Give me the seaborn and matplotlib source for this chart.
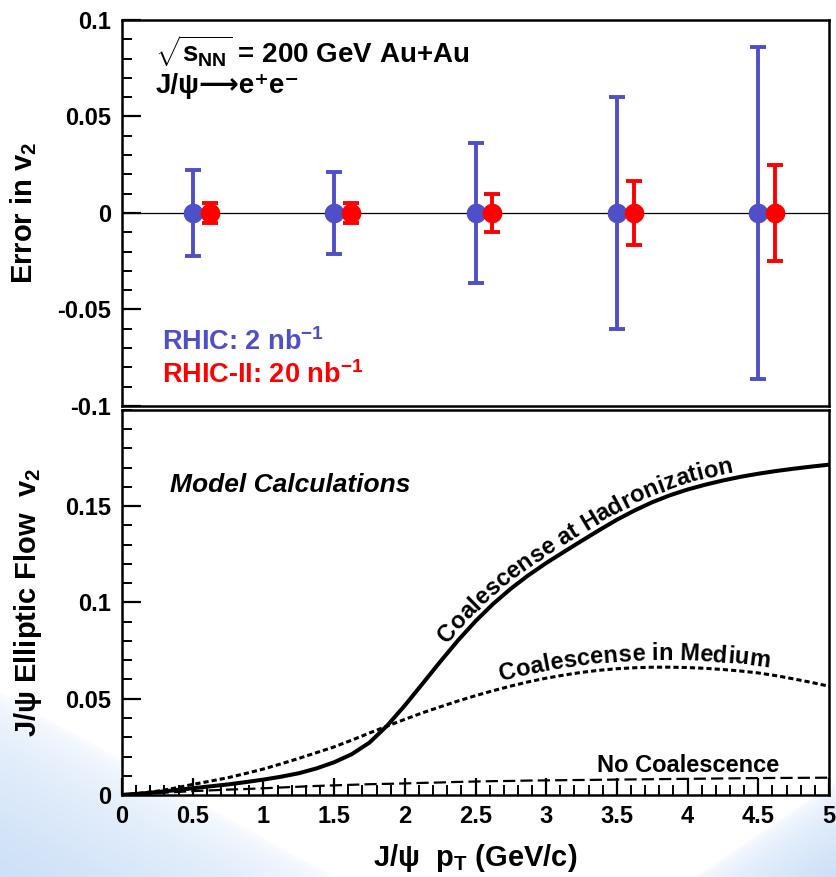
import numpy as np
import matplotlib
matplotlib.use("Agg")
import matplotlib.pyplot as plt
from matplotlib.ticker import MultipleLocator, FixedLocator, FuncFormatter
from matplotlib.font_manager import FontProperties, findfont, get_font
import seaborn as sns

# J/psi v2 error projections at RHIC and RHIC-II luminosities
pt_rhic = [0.5, 1.5, 2.5, 3.5, 4.5]
err_rhic = [0.0225, 0.0215, 0.0365, 0.0600, 0.0860]
pt_rhic2 = [0.62, 1.62, 2.62, 3.62, 4.62]
err_rhic2 = [0.0050, 0.0050, 0.0097, 0.0166, 0.0250]

# Model calculations of J/psi elliptic flow versus pT
pt_model = [0.0, 0.125, 0.25, 0.375, 0.5, 0.625, 0.75, 0.875, 1.0, 1.125, 1.25, 1.375,
            1.5, 1.625, 1.75, 1.875, 2.0, 2.125, 2.25, 2.375, 2.5, 2.625, 2.75, 2.875,
            3.0, 3.125, 3.25, 3.375, 3.5, 3.625, 3.75, 3.875, 4.0, 4.125, 4.25, 4.375,
            4.5, 4.625, 4.75, 4.875, 5.0]
v2_hadronization = [0.0, 0.0007, 0.0015, 0.0025, 0.0035, 0.0045, 0.0055, 0.0067, 0.0080,
                    0.0095, 0.0113, 0.0138, 0.0170, 0.0212, 0.0272, 0.0360, 0.0465, 0.0578,
                    0.0692, 0.0802, 0.0903, 0.0993, 0.1072, 0.1142, 0.1205, 0.1263, 0.1320,
                    0.1376, 0.1430, 0.1478, 0.1521, 0.1557, 0.1587, 0.1612, 0.1634, 0.1653,
                    0.1669, 0.1683, 0.1695, 0.1706, 0.1716]
v2_medium = [0.0, 0.0009, 0.0020, 0.0036, 0.0055, 0.0072, 0.0090, 0.0112, 0.0135, 0.0162,
             0.0190, 0.0220, 0.0250, 0.0285, 0.0322, 0.0358, 0.0393, 0.0427, 0.0458, 0.0488,
             0.0516, 0.0542, 0.0566, 0.0588, 0.0607, 0.0623, 0.0637, 0.0648, 0.0656, 0.0661,
             0.0664, 0.0664, 0.0662, 0.0658, 0.0652, 0.0644, 0.0634, 0.0620, 0.0603, 0.0585,
             0.0565]
v2_no_coalescence = [0.0005, 0.0007, 0.0010, 0.0015, 0.0020, 0.0024, 0.0028, 0.0031, 0.0035,
                     0.0039, 0.0043, 0.0047, 0.0050, 0.0053, 0.0056, 0.0058, 0.0060, 0.0063,
                     0.0065, 0.0068, 0.0070, 0.0072, 0.0073, 0.0075, 0.0076, 0.0077, 0.0078,
                     0.0079, 0.0080, 0.0081, 0.0082, 0.0083, 0.0084, 0.0085, 0.0086, 0.0087,
                     0.0088, 0.00885, 0.0089, 0.00895, 0.0090]

ticks_top = [-0.1, -0.05, 0.0, 0.05, 0.1]
ticks_bottom = [0.0, 0.05, 0.1, 0.15]

BLUE = "#4F4FC8"
RED = "#FF0000"

sns.set_theme(style="ticks")
plt.rcParams.update({
    "font.family": ["Liberation Sans", "DejaVu Sans"],
    "font.weight": "bold",
    "axes.labelweight": "bold",
    "text.color": "black",
    "axes.labelcolor": "black",
    "axes.edgecolor": "black",
    "xtick.color": "black",
    "ytick.color": "black",
    "axes.unicode_minus": False,
    "mathtext.fontset": "custom",
    "mathtext.rm": "Liberation Sans:bold",
    "mathtext.bf": "Liberation Sans:bold",
    "mathtext.it": "Liberation Sans:bold:italic",
    "mathtext.sf": "Liberation Sans:bold",
    "mathtext.default": "rm",
})

fig = plt.figure(figsize=(8.37, 8.77), dpi=100)
fig.patch.set_facecolor("white")

# soft blue slide background in the lower corners
H, W = 877, 837
yy, xx = np.mgrid[0:H, 0:W]
u = xx / W
v = (H - 1 - yy) / H
left = np.clip(1 - (u / 0.40 + v / 0.21), 0, 1)
right = np.clip(1 - ((1 - u) / 0.17 + v / 0.11), 0, 1)
amount = np.clip(np.sqrt(left) + np.sqrt(right), 0, 1)[..., None] * 0.75
tint = np.array([0.74, 0.84, 0.96])
bg_img = 1 - amount * (1 - tint)
bg = fig.add_axes([0, 0, 1, 1], zorder=-10)
bg.imshow(bg_img, extent=[0, 1, 0, 1], aspect="auto", interpolation="bilinear")
bg.axis("off")

ax_top = fig.add_axes([0.14576, 0.53706, 0.84470, 0.44014])
ax_bot = fig.add_axes([0.14576, 0.09350, 0.84470, 0.43900])
for ax in (ax_top, ax_bot):
    ax.set_facecolor("white")
    for sp in ax.spines.values():
        sp.set_visible(True)
        sp.set_linewidth(1.8)
        sp.set_color("black")

fmt = FuncFormatter(lambda val, _: f"{val:g}")

# ---- top panel: projected statistical errors ----
ax_top.axhline(0, color="black", lw=0.9, zorder=1)
ax_top.errorbar(pt_rhic, np.zeros(len(pt_rhic)), yerr=err_rhic, fmt="none",
                ecolor=BLUE, elinewidth=2.8, capsize=6, capthick=2.8, zorder=2)
sns.scatterplot(x=pt_rhic, y=np.zeros(len(pt_rhic)), ax=ax_top, color=BLUE, s=200,
                linewidth=0, zorder=3, legend=False)
ax_top.errorbar(pt_rhic2, np.zeros(len(pt_rhic2)), yerr=err_rhic2, fmt="none",
                ecolor=RED, elinewidth=2.8, capsize=5.5, capthick=2.8, zorder=4)
sns.scatterplot(x=pt_rhic2, y=np.zeros(len(pt_rhic2)), ax=ax_top, color=RED, s=200,
                linewidth=0, zorder=5, legend=False)

ax_top.set_xlim(0, 5)
ax_top.set_ylim(-0.1, 0.1)
ax_top.yaxis.set_major_locator(FixedLocator(ticks_top))
ax_top.yaxis.set_minor_locator(MultipleLocator(0.01))
ax_top.yaxis.set_major_formatter(fmt)
ax_top.tick_params(axis="y", which="major", direction="in", length=14, width=1.6,
                   labelsize=17, pad=8, left=True, right=False)
ax_top.tick_params(axis="y", which="minor", direction="in", length=7, width=1.4,
                   left=True, right=False)
ax_top.tick_params(axis="x", which="both", bottom=False, top=False, labelbottom=False)
ax_top.set_xlabel("")
ax_top.set_ylabel("Error in v$_2$", fontsize=21)
ax_top.yaxis.set_label_coords(-0.118, 0.5)

ax_top.text(0.047, 0.891, r"$\sqrt{s_{NN}}$ = 200 GeV Au+Au", transform=ax_top.transAxes,
            fontsize=20, va="baseline")
ax_top.text(0.047, 0.811, "J/ψ⟶e⁺e⁻", transform=ax_top.transAxes, fontsize=20,
            va="baseline", family=["Liberation Sans", "DejaVu Sans"])
ax_top.text(0.0566, 0.145, r"RHIC: 2 nb$^{-1}$", transform=ax_top.transAxes,
            fontsize=19.5, va="baseline", color=BLUE)
ax_top.text(0.0566, 0.0596, r"RHIC-II: 20 nb$^{-1}$", transform=ax_top.transAxes,
            fontsize=19.5, va="baseline", color=RED)

# ---- bottom panel: model curves ----
sns.lineplot(x=pt_model, y=v2_hadronization, ax=ax_bot, color="black", lw=2.9)
sns.lineplot(x=pt_model, y=v2_medium, ax=ax_bot, color="black", lw=2.2,
             linestyle=(0, (1.7, 1.0)))
sns.lineplot(x=pt_model, y=v2_no_coalescence, ax=ax_bot, color="black", lw=1.6,
             linestyle=(0, (5.5, 2.3)))

ax_bot.set_xlim(0, 5)
ax_bot.set_ylim(0, 0.2)
ax_bot.xaxis.set_major_locator(MultipleLocator(0.5))
ax_bot.xaxis.set_minor_locator(MultipleLocator(0.1))
ax_bot.xaxis.set_major_formatter(fmt)
ax_bot.yaxis.set_major_locator(FixedLocator(ticks_bottom))
ax_bot.yaxis.set_minor_locator(MultipleLocator(0.01))
ax_bot.yaxis.set_major_formatter(fmt)
ax_bot.tick_params(axis="both", which="major", direction="in", width=1.6, labelsize=17,
                   top=False, right=False)
ax_bot.tick_params(axis="y", which="major", length=14, pad=8)
ax_bot.tick_params(axis="x", which="major", length=12, pad=7)
ax_bot.tick_params(axis="both", which="minor", direction="in", length=7, width=1.4,
                   top=False, right=False)
ax_bot.set_xlabel(r"J/ψ  p$_T$ (GeV/c)", fontsize=21)
ax_bot.set_ylabel(r"J/ψ Elliptic Flow  v$_2$", fontsize=21)
ax_bot.xaxis.set_label_coords(0.5, -0.122)
ax_bot.yaxis.set_label_coords(-0.110, 0.5)

ax_bot.text(0.068, 0.787, "Model Calculations", transform=ax_bot.transAxes,
            fontsize=19, fontstyle="italic", va="baseline")
ax_bot.text(3.36, 0.0119, "No Coalescence", fontsize=17, va="baseline")


def label_along(ax, xs, ys, text, x_start, offset, size):
    """Write text character by character along a curve, just above it."""
    prop = FontProperties(family="Liberation Sans", weight="bold", size=size)
    font = get_font(findfont(prop))
    font.set_size(size, ax.figure.dpi)
    adv = np.array([font.load_char(ord(c)).linearHoriAdvance / 65536 for c in text])
    pts = ax.transData.transform(np.column_stack([xs, ys]))
    arc = np.concatenate([[0.0], np.cumsum(np.hypot(*np.diff(pts, axis=0).T))])
    s0 = np.interp(x_start, xs, arc)
    centers = s0 + np.cumsum(adv) - adv / 2
    inv = ax.transData.inverted()
    for ch, sc in zip(text, centers):
        if ch == " ":
            continue
        px = np.interp(sc, arc, pts[:, 0])
        py = np.interp(sc, arc, pts[:, 1])
        xa, ya = np.interp(sc - 14, arc, pts[:, 0]), np.interp(sc - 14, arc, pts[:, 1])
        xb, yb = np.interp(sc + 14, arc, pts[:, 0]), np.interp(sc + 14, arc, pts[:, 1])
        ang = np.arctan2(yb - ya, xb - xa)
        qx = px - offset * np.sin(ang)
        qy = py + offset * np.cos(ang)
        dx, dy = inv.transform((qx, qy))
        ax.text(dx, dy, ch, rotation=np.degrees(ang), rotation_mode="anchor",
                ha="center", va="baseline", fontsize=size, fontweight="bold")


label_along(ax_bot, pt_model, v2_hadronization, "Coalescense at Hadronization",
            2.33, 6, 17)
label_along(ax_bot, pt_model, v2_medium, "Coalescense in Medium", 2.69, 7, 17)

fig.savefig("out.png", dpi=100, facecolor="white")
